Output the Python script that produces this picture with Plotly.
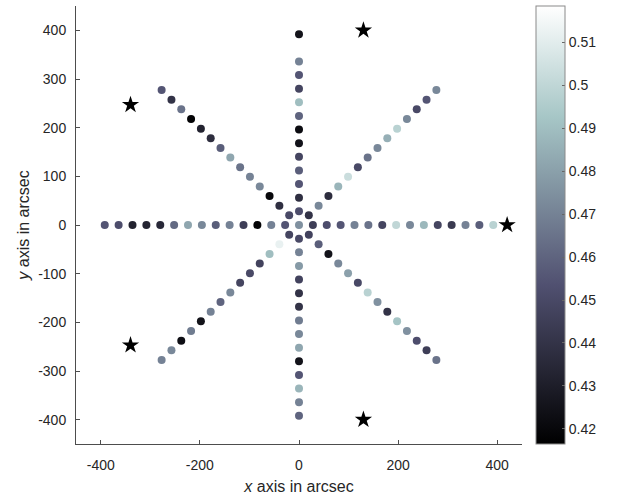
import numpy as np
import plotly.graph_objects as go

# ---- data ----
step_arcsec = 28
radii_index = list(range(1, 15))
center_value = 0.475

arm_angles_deg = [0, 45, 90, 135, 180, 225, 270, 315]
arm_E = [0.445, 0.452, 0.455, 0.470, 0.465, 0.448, 0.500, 0.472, 0.488, 0.448, 0.443, 0.470, 0.458, 0.498]
arm_NE = [0.440, 0.472, 0.437, 0.487, 0.503, 0.450, 0.465, 0.472, 0.485, 0.498, 0.472, 0.450, 0.455, 0.472]
arm_N = [0.452, 0.438, 0.455, 0.458, 0.448, 0.425, 0.422, 0.460, 0.490, 0.448, 0.455, 0.470, None, 0.425]
arm_NW = [0.450, 0.438, 0.420, 0.472, 0.470, 0.465, 0.482, 0.458, 0.437, 0.432, 0.418, 0.465, 0.440, 0.455]
arm_W = [0.455, 0.470, 0.418, 0.445, 0.470, 0.458, 0.472, 0.482, 0.462, 0.435, 0.433, 0.432, 0.452, 0.455]
arm_SW = [0.448, 0.512, 0.490, 0.447, 0.450, 0.448, 0.472, 0.460, 0.470, 0.425, 0.468, 0.423, 0.472, 0.470]
arm_S = [0.450, 0.470, 0.478, 0.447, 0.440, 0.440, 0.468, 0.472, 0.482, 0.425, 0.455, 0.487, 0.470, 0.460]
arm_SE = [0.447, 0.458, 0.425, 0.472, 0.480, 0.450, 0.498, 0.475, 0.440, 0.492, 0.475, 0.452, 0.445, 0.465]
arm_values = [arm_E, arm_NE, arm_N, arm_NW, arm_W, arm_SW, arm_S, arm_SE]

star_x = [420, 130, -340, -340, 130]
star_y = [0, 400, 247, -247, -400]

color_min, color_max = 0.4165, 0.5184
cbar_ticks = [0.42, 0.43, 0.44, 0.45, 0.46, 0.47, 0.48, 0.49, 0.50, 0.51]
cbar_ticktext = ["0.42", "0.43", "0.44", "0.45", "0.46", "0.47", "0.48", "0.49", "0.5", "0.51"]
x_ticks = [-400, -200, 0, 200, 400]
x_ticktext = ["-400", "-200", "0", "200", "400"]
y_ticks = [-400, -300, -200, -100, 0, 100, 200, 300, 400]
y_ticktext = ["-400", "-300", "-200", "-100", "0", "100", "200", "300", "400"]

# ---- build points ----
xs, ys, vs = [0.0], [0.0], [center_value]
for ang, vals in zip(arm_angles_deg, arm_values):
    a = np.deg2rad(ang)
    for k, v in zip(radii_index, vals):
        if v is None:
            continue
        r = k * step_arcsec
        xs.append(r * np.cos(a))
        ys.append(r * np.sin(a))
        vs.append(v)

bone = [
    [0.0, "rgb(0,0,0)"],
    [0.365079, "rgb(81,81,113)"],
    [0.746032, "rgb(166,198,198)"],
    [1.0, "rgb(255,255,255)"],
]

font_family = "Liberation Sans, Arial, Helvetica, sans-serif"
text_color = "#262626"

fig = go.Figure()
fig.add_trace(go.Scatter(
    x=xs, y=ys, mode="markers",
    marker=dict(
        size=8, color=vs, colorscale=bone, cmin=color_min, cmax=color_max,
        line=dict(width=0),
        colorbar=dict(
            x=1.031, xanchor="left", xpad=0, y=0.5, yanchor="middle", ypad=0,
            len=1.0, lenmode="fraction", thickness=29,
            outlinewidth=1, outlinecolor="#8a8a8a",
            tickvals=cbar_ticks, ticktext=cbar_ticktext,
            ticks="inside", ticklen=3, tickcolor="#666666",
            tickfont=dict(size=14, color=text_color, family=font_family),
        ),
    ),
    showlegend=False, hoverinfo="skip",
))
fig.add_trace(go.Scatter(
    x=star_x, y=star_y, mode="markers",
    marker=dict(symbol="star", size=13, color="black", line=dict(width=0)),
    showlegend=False, hoverinfo="skip",
))

axis_common = dict(
    showgrid=False, zeroline=False, showline=True, linecolor="#4d4d4d", linewidth=1,
    ticks="inside", ticklen=4, tickcolor="#4d4d4d", mirror=False,
    tickfont=dict(size=14, color=text_color, family=font_family),
    range=[-450, 450],
)
fig.update_layout(
    width=622, height=498,
    margin=dict(l=76, r=100, t=6, b=54),
    paper_bgcolor="white", plot_bgcolor="white",
    font=dict(family=font_family, color=text_color),
    xaxis=dict(**axis_common, tickvals=x_ticks, ticktext=x_ticktext, ticklabelstandoff=8,
               title=dict(text="<i>x</i> axis in arcsec", font=dict(size=16), standoff=9)),
    yaxis=dict(**axis_common, tickvals=y_ticks, ticktext=y_ticktext, ticklabelstandoff=6,
               title=dict(text="<i>y</i> axis in arcsec", font=dict(size=16), standoff=4)),
)

fig.write_html("out.html")
